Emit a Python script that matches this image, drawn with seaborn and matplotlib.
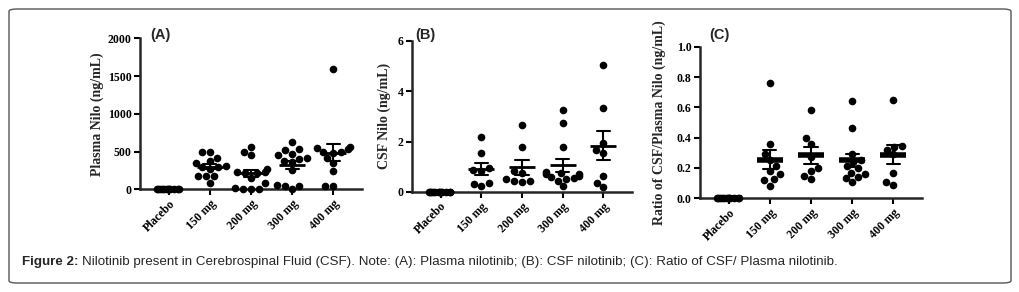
import numpy as np
import pandas as pd
import matplotlib
matplotlib.use("Agg")
import matplotlib.pyplot as plt
from matplotlib.patches import FancyBboxPatch
import seaborn as sns
import warnings
warnings.filterwarnings("ignore")

groups = ["Placebo", "150 mg", "200 mg", "300 mg", "400 mg"]

placebo = [0.0] * 12

plasma_150 = [490, 490, 420, 380, 350, 310, 300, 290, 270, 180, 170, 170, 80]
plasma_200 = [565, 495, 455, 270, 230, 220, 215, 230, 150, 80, 15, 10, 10, 10]
plasma_300 = [620, 530, 520, 470, 450, 420, 400, 380, 360, 250, 60, 50, 10, 50]
plasma_400 = [1600, 560, 550, 540, 500, 490, 480, 410, 350, 240, 50, 50]

csf_150 = [2.18, 1.55, 0.95, 0.88, 0.85, 0.35, 0.30, 0.22]
csf_200 = [2.65, 1.78, 0.85, 0.75, 0.50, 0.45, 0.42, 0.40]
csf_300 = [3.25, 2.75, 1.78, 0.78, 0.75, 0.72, 0.70, 0.65, 0.60, 0.55, 0.50, 0.45, 0.22]
csf_400 = [5.04, 3.35, 1.95, 1.65, 1.55, 0.62, 0.35, 0.18]

ratio_150 = [0.76, 0.36, 0.29, 0.25, 0.21, 0.18, 0.16, 0.125, 0.12, 0.083]
ratio_200 = [0.58, 0.40, 0.36, 0.27, 0.20, 0.18, 0.15, 0.125]
ratio_300 = [0.64, 0.465, 0.29, 0.25, 0.24, 0.21, 0.20, 0.17, 0.16, 0.14, 0.135, 0.105]
ratio_400 = [0.65, 0.345, 0.34, 0.32, 0.29, 0.165, 0.105, 0.088]

panels = [
    ("(A)", "Plasma Nilo (ng/mL)", [placebo, plasma_150, plasma_200, plasma_300, plasma_400],
     (0, 2000), [0, 500, 1000, 1500, 2000], "{:.0f}", 2.0),
    ("(B)", "CSF Nilo (ng/mL)", [placebo, csf_150, csf_200, csf_300, csf_400],
     (0, 6), [0, 2, 4, 6], "{:.0f}", 2.0),
    ("(C)", "Ratio of CSF/Plasma Nilo (ng/mL)", [placebo, ratio_150, ratio_200, ratio_300, ratio_400],
     (0, 1.0), [0.0, 0.2, 0.4, 0.6, 0.8, 1.0], "{:.1f}", 4.0),
]

sns.set_style("ticks")
plt.rcParams["font.family"] = ["Liberation Serif", "DejaVu Serif"]

W, H = 1019, 292
fig = plt.figure(figsize=(W / 100, H / 100), dpi=100)

# axes boxes in pixels: left, right, top, bottom
boxes = [(140, 362, 38.3, 189.3), (412, 632, 40.7, 192), (700, 922, 46.7, 198.3)]
label_x = [-0.16, -0.095, -0.153]
title_x = [150, 415, 709]

for (title, ylabel, data, ylim, yticks, fmt, mlw), (l, r, t, b), lx, tx in zip(
        panels, boxes, label_x, title_x):
    ax = fig.add_axes([l / W, 1 - b / H, (r - l) / W, (b - t) / H])
    rows = []
    for g, vals in zip(groups, data):
        for v in vals:
            rows.append((g, v))
    df = pd.DataFrame(rows, columns=["group", "value"])
    treated = df[df["group"] != "Placebo"]
    ctrl = df[df["group"] == "Placebo"]
    sns.swarmplot(data=treated, x="group", y="value", order=groups, color="black",
                  size=5.5, ax=ax, warn_thresh=1.0)
    np.random.seed(3)
    sns.stripplot(data=ctrl, x="group", y="value", order=groups, color="black",
                  size=5.5, jitter=0.3, ax=ax)
    sns.pointplot(data=df, x="group", y="value", order=groups, errorbar="se",
                  capsize=0.32, linestyle="none", marker="_", markersize=19,
                  markeredgewidth=mlw, color="black",
                  err_kws={"linewidth": 1.5}, ax=ax)
    for c in ax.collections:
        c.set_clip_on(False)
    for ln in ax.lines:
        ln.set_clip_on(False)
    ax.set_ylim(*ylim)
    ax.set_xlim(-0.7, 4.7)
    ax.set_yticks(yticks)
    ax.set_yticklabels([fmt.format(v) for v in yticks], fontsize=8.5, fontweight="bold")
    ax.set_xticks(range(len(groups)))
    ax.set_xticklabels(groups, fontsize=8.5, fontweight="bold", rotation=45,
                       ha="right", rotation_mode="anchor")
    ax.set_xlabel("")
    ax.set_ylabel(ylabel, fontsize=10, fontweight="bold")
    ax.yaxis.set_label_coords(lx, 0.5)
    sns.despine(ax=ax)
    for s in ("left", "bottom"):
        ax.spines[s].set_linewidth(1.8)
    ax.tick_params(axis="both", length=4, width=1.5, pad=2, colors="black")
    fig.text(tx / W, 1 - 35 / H, title, fontsize=10.5,
             fontweight="bold", family=["Liberation Sans", "DejaVu Sans"],
             ha="left", va="center")

# frame
frame = FancyBboxPatch((9 / W, 9 / H), (1011 - 9) / W, (283 - 9) / H,
                       boxstyle="round,pad=0,rounding_size=0.008",
                       transform=fig.transFigure, facecolor="none",
                       edgecolor="#555555", linewidth=1.0)
fig.patches.append(frame)

cap_y = 1 - 262 / H
t1 = fig.text(22 / W, cap_y, "Figure 2:", fontsize=9.6, fontweight="bold",
              family=["Liberation Sans", "DejaVu Sans"], va="center", ha="left")
fig.canvas.draw()
bb = t1.get_window_extent(fig.canvas.get_renderer())
fig.text(bb.x1 / W + 3 / W, cap_y,
         "Nilotinib present in Cerebrospinal Fluid (CSF). Note: (A): Plasma nilotinib; "
         "(B): CSF nilotinib; (C): Ratio of CSF/ Plasma nilotinib.",
         fontsize=9.6, family=["Liberation Sans", "DejaVu Sans"], va="center", ha="left")

fig.savefig("out.png", dpi=100)
